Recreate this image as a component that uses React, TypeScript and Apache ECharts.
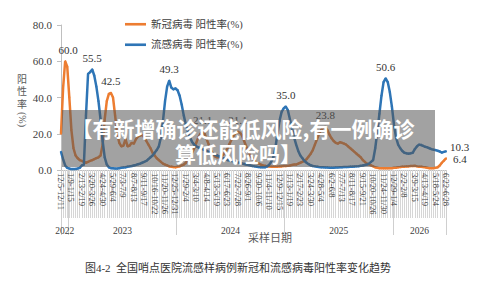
import { useEffect, useRef } from "react";
import * as echarts from "echarts";

// Weekly sampling periods (Monday–Sunday), starting 2022-12-05
const FIRST_MONDAY_UTC = Date.UTC(2022, 11, 5);
const WEEK_COUNT = 186;
const DAY_MS = 86400000;

function buildWeeks() {
  const labels: string[] = [];
  const weekYears: number[] = [];
  for (let i = 0; i < WEEK_COUNT; i++) {
    const mon = new Date(FIRST_MONDAY_UTC + i * 7 * DAY_MS);
    const sun = new Date(mon.getTime() + 6 * DAY_MS);
    const thu = new Date(mon.getTime() + 3 * DAY_MS); // week belongs to the year of its Thursday
    labels.push(
      `${mon.getUTCMonth() + 1}/${mon.getUTCDate()}-${sun.getUTCMonth() + 1}/${sun.getUTCDate()}`
    );
    weekYears.push(thu.getUTCFullYear());
  }
  return { labels, weekYears };
}

const { labels: weekLabels, weekYears } = buildWeeks();

// 新冠病毒 阳性率(%)
const covidRate: number[] = [
  20, 45, 60.0, 57, 40, 22, 12, 8, 6.5, 5.5,
  5, 4.5, 4, 4.5, 5, 5.5, 6, 6.5, 7, 8,
  14, 28, 38, 42, 42.5, 40, 30, 20, 15, 13,
  13.5, 17, 13, 13.5, 15, 14.5, 17, 18.5, 19, 19.3,
  18, 16, 14, 12, 9.5, 8, 6.5, 5.5, 4.5, 3.5,
  3, 2.5, 2, 1.8, 1.6, 1.5, 1.8, 2, 2.5, 3,
  4, 5.5, 7.5, 9.5, 12, 15, 18, 20, 21.1, 20,
  17, 14, 11, 9, 7.5, 7, 7, 7.5, 8.5, 10,
  12, 14.5, 17, 19, 20.5, 21.1, 20.5, 19, 16, 13,
  10, 8, 6.5, 5, 4, 3.5, 3, 2.5, 2.3, 2,
  2, 1.8, 1.8, 1.8, 1.8, 2, 2, 2.2, 2.2, 2.3,
  2.5, 2.8, 3, 3, 3.5, 4, 4.5, 5, 6, 7.5,
  9, 11, 14, 17, 20, 22, 23.5, 23.8, 22, 19.5,
  17.5, 16, 15, 14.5, 15.3, 15, 14.5, 14, 13, 12,
  11, 10, 9, 8, 7, 5.5, 4.5, 3.5, 3, 2.5,
  2, 1.5, 1.2, 1, 1, 0.9, 0.9, 0.9, 1, 1,
  1.2, 1.3, 1.5, 1.6, 1.8, 1.8, 2, 2, 2.2, 2.2,
  2.3, 2, 1.8, 1.8, 1.6, 1.5, 1.2, 1, 1, 1,
  1.2, 1.5, 2.5, 4, 5.2, 6.4,
];

// 流感病毒 阳性率(%)
const fluRate: number[] = [
  10.0, 6, 2.5, 1.2, 0.8, 0.5, 0.5, 0.6, 0.8, 1.2,
  2.5, 3, 30, 53, 54, 55.5, 52, 46, 38, 28,
  16, 7, 3, 1.5, 1, 0.9, 0.8, 0.8, 1, 1.2,
  1.4, 1.5, 1.8, 2, 2.2, 2.5, 2.8, 3.2, 3.5, 4,
  4.5, 5, 6, 7, 8, 9.5, 11, 13, 18, 27,
  38, 46, 49.3, 45.5, 44.5, 45, 44, 41, 36, 30,
  25, 21, 18, 15.5, 14, 13, 12.5, 12, 11.5, 11,
  10.5, 10, 9.5, 9, 8.5, 8, 7.5, 7, 6.5, 6,
  5.5, 5.2, 5, 4.8, 4.5, 4.2, 4, 3.6, 3.3, 3,
  2.8, 2.5, 2.2, 2, 1.8, 1.6, 1.5, 1.5, 1.5, 2,
  2.8, 4.5, 7, 12, 20, 27, 32, 34, 35.0, 33,
  28, 23, 18, 14, 10.5, 8, 6.5, 5, 4, 3.2,
  2.6, 2.2, 2, 1.8, 1.6, 1.5, 1.5, 1.4, 1.4, 1.3,
  1.3, 1.3, 1.4, 1.4, 1.5, 1.5, 1.6, 1.6, 1.7, 1.8,
  1.8, 1.9, 2, 2.1, 2.3, 2.5, 2.8, 3, 3.5, 4.5,
  5.5, 12, 21, 31, 41, 48.5, 50.6, 48.5, 43, 35,
  25, 18, 14, 12, 10.5, 9.5, 9.2, 9, 9.2, 9.5,
  11.5, 13, 14, 13.8, 13.3, 12.8, 12.5, 12, 11.5, 11.2,
  11, 10.6, 10.2, 9.6, 10, 10.3,
];

// Weeks whose value is printed on the curve
const covidLabeled: number[] = [2, 24, 68, 85, 127, 185];
const fluLabeled: number[] = [15, 52, 108, 156, 185];

const seriesNames = ["新冠病毒 阳性率(%)", "流感病毒 阳性率(%)"];
const yTicks = { min: 0, max: 80, step: 20 };

const COVID_COLOR = "#ED7D31";
const FLU_COLOR = "#2E75B6";
const SERIF = "'Liberation Serif', 'Noto Sans CJK SC', serif";
const CJK = "'Liberation Serif', 'Noto Sans CJK SC', sans-serif";
const LEGEND_LINE = "path://M0,0 L24,0 L24,3 L0,3 Z";

// Year groups on the lower axis row: edges between ISO years and their mid points
function yearGroups() {
  const edges: number[] = [0];
  const years: number[] = [weekYears[0]];
  for (let i = 1; i < weekYears.length; i++) {
    if (weekYears[i] !== weekYears[i - 1]) {
      edges.push(i - 0.5);
      years.push(weekYears[i]);
    }
  }
  edges.push(weekYears.length - 1);
  const mids = years.map((_, k) => (edges[k] + edges[k + 1]) / 2);
  return { edges, years, mids };
}

function labeledData(values: number[], labeled: number[], isCovid: boolean) {
  const last = values.length - 1;
  return values.map((v, i) => {
    if (!labeled.includes(i)) return v;
    let offset = [0, 0];
    if (i === last) offset = isCovid ? [3, 1] : [0, -4];
    else if (isCovid && i === 2) offset = [3, 0];
    return {
      value: v,
      label: {
        show: true,
        position: i === last ? "right" : "top",
        distance: i === last ? 3 : 5,
        offset,
        formatter: (p: any) => Number(p.value).toFixed(1),
        fontFamily: SERIF,
        fontSize: 11,
        color: "#333333",
      },
    };
  });
}

export default function App() {
  const ref = useRef<HTMLDivElement>(null);

  useEffect(() => {
    if (!ref.current) return;
    const chart = echarts.init(ref.current, undefined, { renderer: "svg" });
    const { edges, years, mids } = yearGroups();
    const lastIdx = weekLabels.length - 1;

    chart.setOption({
      animation: false,
      backgroundColor: "#ffffff",
      grid: { left: 61, right: 54, top: 25, bottom: 114, containLabel: false },
      legend: {
        orient: "vertical",
        left: 120,
        top: 14,
        itemWidth: 21,
        itemHeight: 3,
        itemGap: 10,
        textStyle: { fontFamily: CJK, fontSize: 10.5, color: "#404040" },
        data: [
          { name: seriesNames[0], icon: LEGEND_LINE },
          { name: seriesNames[1], icon: LEGEND_LINE },
        ],
      },
      xAxis: [
        {
          type: "category",
          data: weekLabels,
          boundaryGap: false,
          axisLine: { lineStyle: { color: "#bfbfbf", width: 1 } },
          axisTick: { interval: 0, length: 48, lineStyle: { color: "#d6d6d6", width: 1 } },
          axisLabel: {
            interval: 4,
            rotate: -90,
            margin: 3,
            fontSize: 8.5,
            fontFamily: SERIF,
            color: "#404040",
          },
          splitLine: { show: false },
        },
        {
          type: "value",
          min: 0,
          max: lastIdx,
          position: "bottom",
          offset: 0,
          axisLine: { show: false },
          splitLine: { show: false },
          axisTick: {
            show: true,
            customValues: edges,
            length: 65,
            lineStyle: { color: "#cfcfcf", width: 1 },
          },
          axisLabel: {
            customValues: mids,
            margin: 56,
            fontSize: 9.5,
            fontFamily: SERIF,
            color: "#404040",
            formatter: (v: number) => {
              const k = mids.findIndex((m) => Math.abs(m - v) < 1e-6);
              return k >= 0 ? String(years[k]) : "";
            },
          },
        },
      ],
      yAxis: {
        type: "value",
        min: yTicks.min,
        max: yTicks.max,
        interval: yTicks.step,
        axisLine: { show: true, lineStyle: { color: "#bfbfbf" } },
        axisTick: { show: true, length: 4, lineStyle: { color: "#bfbfbf" } },
        splitLine: { show: false },
        axisLabel: {
          margin: 9,
          fontSize: 11,
          fontFamily: SERIF,
          color: "#404040",
          formatter: (v: number) => v.toFixed(1),
        },
      },
      series: [
        {
          name: seriesNames[0],
          type: "line",
          data: labeledData(covidRate, covidLabeled, true),
          symbol: "circle",
          symbolSize: 2,
          showSymbol: true,
          showAllSymbol: true,
          lineStyle: { color: COVID_COLOR, width: 2.5 },
          itemStyle: { color: COVID_COLOR },
          z: 3,
        },
        {
          name: seriesNames[1],
          type: "line",
          data: labeledData(fluRate, fluLabeled, false),
          symbol: "circle",
          symbolSize: 2,
          showSymbol: true,
          showAllSymbol: true,
          lineStyle: { color: FLU_COLOR, width: 2.5 },
          itemStyle: { color: FLU_COLOR },
          z: 4,
        },
      ],
      graphic: [
        {
          type: "text",
          left: 17,
          top: 73,
          style: {
            text: "阳\n性\n率",
            fontFamily: CJK,
            fontSize: 10,
            lineHeight: 12.5,
            fill: "#595959",
          },
        },
        {
          type: "text",
          x: 27,
          y: 112,
          rotation: -Math.PI / 2,
          style: { text: "(%)", fontFamily: SERIF, fontSize: 10, fill: "#595959" },
        },
        {
          type: "text",
          x: 270,
          y: 238,
          style: {
            text: "采样日期",
            fontFamily: CJK,
            fontSize: 11,
            fill: "#595959",
            align: "center",
            verticalAlign: "middle",
          },
        },
        {
          type: "text",
          x: 238,
          y: 268,
          style: {
            text: "图4-2  全国哨点医院流感样病例新冠和流感病毒阳性率变化趋势",
            fontFamily: CJK,
            fontSize: 11,
            fill: "#333333",
            align: "center",
            verticalAlign: "middle",
          },
        },
        {
          type: "rect",
          z: 100,
          shape: { x: 62, y: 110, width: 373, height: 57 },
          style: { fill: "rgba(85,85,85,0.55)" },
        },
        {
          type: "text",
          z: 101,
          x: 243,
          y: 128,
          style: {
            text: "【有新增确诊还能低风险,有一例确诊",
            fontFamily: "'Noto Sans CJK SC', sans-serif",
            fontWeight: "bold",
            fontSize: 21,
            fill: "#ffffff",
            align: "center",
            verticalAlign: "middle",
          },
        },
        {
          type: "text",
          z: 101,
          x: 238,
          y: 153,
          style: {
            text: "算低风险吗】",
            fontFamily: "'Noto Sans CJK SC', sans-serif",
            fontWeight: "bold",
            fontSize: 21,
            fill: "#ffffff",
            align: "center",
            verticalAlign: "middle",
          },
        },
      ],
    });

    return () => chart.dispose();
  }, []);

  return (
    <div
      ref={ref}
      style={{ position: "fixed", left: 0, top: 0, width: 500, height: 284, background: "#fff" }}
    />
  );
}
